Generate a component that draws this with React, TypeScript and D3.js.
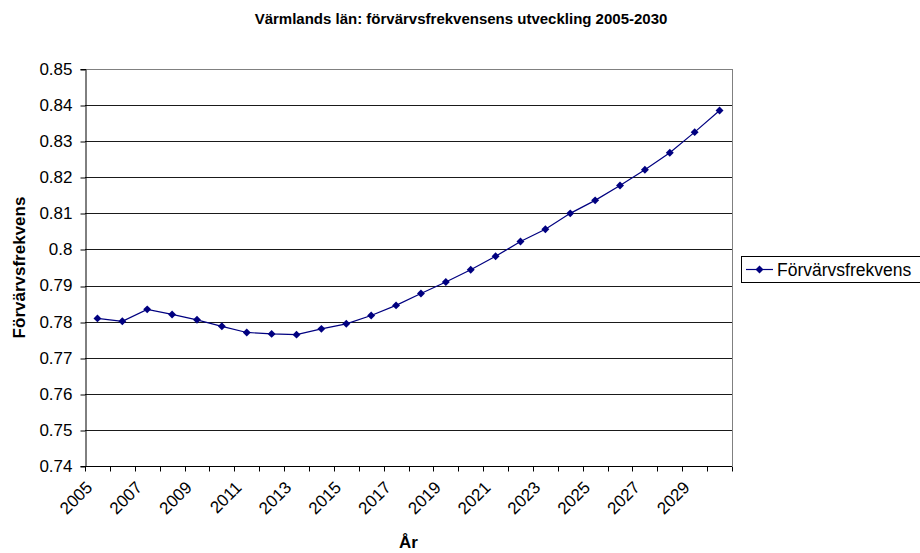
import { useEffect, useRef } from 'react'
import * as d3 from 'd3'

const years = [
  '2005', '2006', '2007', '2008', '2009', '2010', '2011', '2012', '2013',
  '2014', '2015', '2016', '2017', '2018', '2019', '2020', '2021', '2022',
  '2023', '2024', '2025', '2026', '2027', '2028', '2029', '2030'
]
const frekvens = [
  0.7809, 0.7801, 0.7834, 0.782, 0.7805, 0.7787, 0.777, 0.7766, 0.7764,
  0.778, 0.7794, 0.7817, 0.7845, 0.7878, 0.791, 0.7944, 0.7981, 0.8022,
  0.8056, 0.81, 0.8136, 0.8177, 0.8221, 0.8268, 0.8325, 0.8385
]
const yTicks = [0.74, 0.75, 0.76, 0.77, 0.78, 0.79, 0.8, 0.81, 0.82, 0.83, 0.84, 0.85]

const W = 920
const H = 553
const margin = { top: 69, right: 188, bottom: 87, left: 85 }
const font = 'Arial, "Liberation Sans", sans-serif'
const lineColor = '#000080'

export default function App() {
  const svgRef = useRef<SVGSVGElement>(null)

  useEffect(() => {
    if (!svgRef.current) return
    const root = d3.select(svgRef.current)
    root.selectAll('*').remove()

    const innerW = W - margin.left - margin.right
    const innerH = H - margin.top - margin.bottom

    const x = d3.scaleBand<string>().domain(years).range([0, innerW])
    const y = d3.scaleLinear().domain([0.74, 0.85]).range([innerH, 0])
    const cx = (yr: string) => (x(yr) as number) + x.bandwidth() / 2

    // Title
    root.append('text')
      .attr('x', 461)
      .attr('y', 24)
      .attr('text-anchor', 'middle')
      .attr('font-family', font)
      .attr('font-weight', 'bold')
      .attr('font-size', 15)
      .text('Värmlands län: förvärvsfrekvensens utveckling 2005-2030')

    const g = root.append('g')
      .attr('transform', `translate(${margin.left},${margin.top})`)

    // Grid lines
    g.append('g')
      .selectAll('line')
      .data(yTicks)
      .join('line')
      .attr('x1', 0)
      .attr('x2', innerW)
      .attr('y1', d => Math.round(y(d)) + 0.5)
      .attr('y2', d => Math.round(y(d)) + 0.5)
      .attr('stroke', d => (d === 0.85 ? '#808080' : '#1a1a1a'))
      .attr('stroke-width', 1)

    // Right border
    g.append('line')
      .attr('x1', innerW + 0.5)
      .attr('x2', innerW + 0.5)
      .attr('y1', 0)
      .attr('y2', innerH)
      .attr('stroke', '#808080')

    // Y axis
    const yAxis = g.append('g')
      .attr('transform', 'translate(0.5,0)')
      .call(d3.axisLeft(y).tickValues(yTicks).tickSize(5).tickPadding(8)
        .tickFormat(d => `${+(+d).toFixed(2)}`))
    yAxis.selectAll('.tick line')
      .attr('transform', d => `translate(0,${Math.round(y(d as number)) + 0.5 - y(d as number)})`)
    yAxis.selectAll('text')
      .attr('font-family', font)
      .attr('font-size', 17)
      .attr('fill', '#000')
    yAxis.select('.domain').attr('stroke', '#000')

    // X axis: ticks between categories
    const xAxisG = g.append('g')
      .attr('transform', `translate(0,${Math.round(innerH) + 0.5})`)
    xAxisG.append('line')
      .attr('x1', 0)
      .attr('x2', innerW)
      .attr('stroke', '#000')
    const bounds = years.map(d => x(d) as number).concat([innerW])
    xAxisG.selectAll('line.tk')
      .data(bounds)
      .join('line')
      .attr('class', 'tk')
      .attr('x1', d => Math.round(d) + 0.5)
      .attr('x2', d => Math.round(d) + 0.5)
      .attr('y1', 0)
      .attr('y2', 5)
      .attr('stroke', '#000')
    xAxisG.selectAll('text')
      .data(years.filter((_, i) => i % 2 === 0))
      .join('text')
      .attr('transform', d => `translate(${cx(d) - 4},${22}) rotate(-45)`)
      .attr('text-anchor', 'end')
      .attr('font-family', font)
      .attr('font-size', 17)
      .text(d => d)

    // Axis titles
    root.append('text')
      .attr('x', margin.left + innerW / 2)
      .attr('y', 548)
      .attr('text-anchor', 'middle')
      .attr('font-family', font)
      .attr('font-weight', 'bold')
      .attr('font-size', 17)
      .text('År')

    root.append('text')
      .attr('transform', `translate(25,${margin.top + innerH / 2}) rotate(-90)`)
      .attr('text-anchor', 'middle')
      .attr('font-family', font)
      .attr('font-weight', 'bold')
      .attr('font-size', 17)
      .text('Förvärvsfrekvens')

    // Line
    const pts = years.map((yr, i) => ({ yr, v: frekvens[i] }))
    const line = d3.line<{ yr: string; v: number }>()
      .x(d => cx(d.yr))
      .y(d => y(d.v))

    g.append('path')
      .datum(pts)
      .attr('fill', 'none')
      .attr('stroke', lineColor)
      .attr('stroke-width', 1.2)
      .attr('d', line)

    const diamond = d3.symbol().type(d3.symbolDiamond2).size(40)
    g.selectAll('path.pt')
      .data(pts)
      .join('path')
      .attr('class', 'pt')
      .attr('d', diamond)
      .attr('transform', d => `translate(${cx(d.yr)},${y(d.v)})`)
      .attr('fill', lineColor)

    // Legend
    const lg = root.append('g').attr('transform', 'translate(741,256)')
    lg.append('rect')
      .attr('x', 0.5)
      .attr('y', 0.5)
      .attr('width', 200)
      .attr('height', 26)
      .attr('fill', '#fff')
      .attr('stroke', '#000')
    lg.append('line')
      .attr('x1', 5)
      .attr('x2', 32)
      .attr('y1', 13.5)
      .attr('y2', 13.5)
      .attr('stroke', lineColor)
      .attr('stroke-width', 1.2)
    lg.append('path')
      .attr('d', diamond)
      .attr('transform', 'translate(18.5,13.5)')
      .attr('fill', lineColor)
    lg.append('text')
      .attr('x', 36)
      .attr('y', 19.5)
      .attr('font-family', font)
      .attr('font-size', 17.5)
      .text('Förvärvsfrekvens')
  }, [])

  return (
    <svg
      ref={svgRef}
      width={W}
      height={H}
      style={{ position: 'absolute', left: 0, top: 0, background: '#fff' }}
    />
  )
}
